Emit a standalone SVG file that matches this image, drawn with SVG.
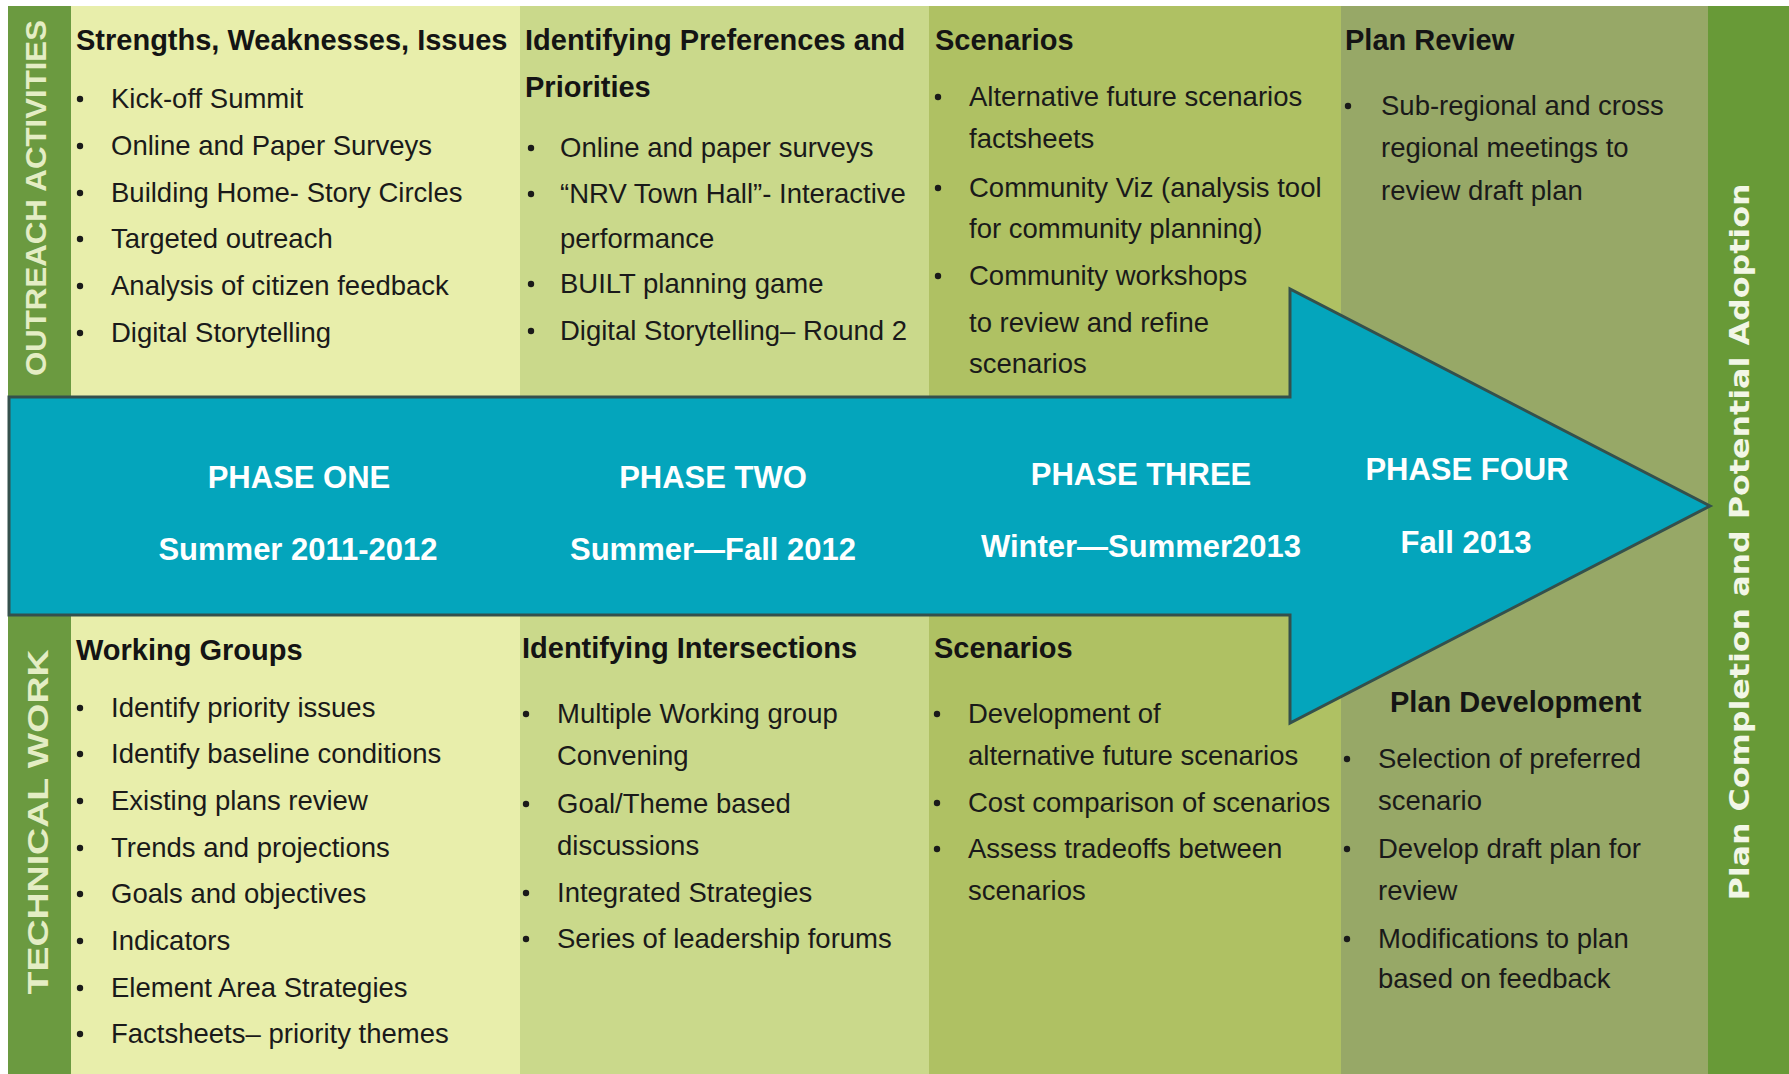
<svg xmlns="http://www.w3.org/2000/svg" width="1789" height="1074" viewBox="0 0 1789 1074">
<style>
.hd{font-family:"Liberation Sans",Arial,sans-serif;font-weight:bold;font-size:29px;fill:#141414}
.tx{font-family:"Liberation Sans",Arial,sans-serif;font-size:27.5px;fill:#1a1a1a}
.ph{font-family:"Liberation Sans",Arial,sans-serif;font-weight:bold;font-size:31px;fill:#ffffff;text-anchor:middle}
.side{font-family:"Liberation Sans",Arial,sans-serif;font-weight:bold;font-size:30px;fill:#e4edc4;text-anchor:middle}
.end{font-family:"DejaVu Sans",Verdana,sans-serif;font-weight:bold;font-size:27px;fill:#f2f6e6;text-anchor:middle}
.b{fill:#1a1a1a}
</style>
<rect x="0" y="0" width="1789" height="1074" fill="#ffffff"/>
<g id="columns">
<rect x="71" y="6" width="449" height="1068" fill="#e8eeab"/>
<rect x="520" y="6" width="409" height="1068" fill="#cad98b"/>
<rect x="929" y="6" width="412" height="1068" fill="#afc163"/>
<rect x="1341" y="6" width="367" height="1068" fill="#97a867"/>
</g>
<g id="outreach-bar">
<rect x="8" y="6" width="63" height="391" fill="#6b9a40"/>
<text class="side" transform="translate(46,198) rotate(-90)" textLength="356" lengthAdjust="spacingAndGlyphs">OUTREACH ACTIVITIES</text>
</g>
<g id="technical-bar">
<rect x="8" y="615" width="63" height="459" fill="#6b9a40"/>
<text class="side" transform="translate(48,822) rotate(-90)" textLength="345" lengthAdjust="spacingAndGlyphs">TECHNICAL WORK</text>
</g>
<g id="completion-bar">
<rect x="1708" y="6" width="81" height="1068" fill="#689a37"/>
<text class="end" transform="translate(1749,542) rotate(-90)" textLength="717" lengthAdjust="spacingAndGlyphs">Plan Completion and Potential Adoption</text>
</g>
<g id="arrow">
<polygon points="9,397 1290,397 1290,289 1710,506 1290,723 1290,615 9,615" fill="#04a5bc" stroke="#34504c" stroke-width="3" stroke-linejoin="miter"/>
</g>
<g id="phase-one">
<text class="ph" x="299" y="488">PHASE ONE</text>
<text class="ph" x="298" y="560">Summer 2011-2012</text>
</g>
<g id="phase-two">
<text class="ph" x="713" y="488">PHASE TWO</text>
<text class="ph" x="713" y="560">Summer—Fall 2012</text>
</g>
<g id="phase-three">
<text class="ph" x="1141" y="485">PHASE THREE</text>
<text class="ph" x="1141" y="557">Winter—Summer2013</text>
</g>
<g id="phase-four">
<text class="ph" x="1467" y="480">PHASE FOUR</text>
<text class="ph" x="1466" y="553">Fall 2013</text>
</g>
<g id="p1-outreach">
<text class="hd" x="76" y="50">Strengths, Weaknesses, Issues</text>
<circle class="b" cx="80" cy="99" r="3.2"/><text class="tx" x="111" y="108">Kick-off Summit</text>
<circle class="b" cx="80" cy="146" r="3.2"/><text class="tx" x="111" y="155">Online and Paper Surveys</text>
<circle class="b" cx="80" cy="193" r="3.2"/><text class="tx" x="111" y="202">Building Home- Story Circles</text>
<circle class="b" cx="80" cy="239" r="3.2"/><text class="tx" x="111" y="248">Targeted outreach</text>
<circle class="b" cx="80" cy="286" r="3.2"/><text class="tx" x="111" y="295">Analysis of citizen feedback</text>
<circle class="b" cx="80" cy="333" r="3.2"/><text class="tx" x="111" y="342">Digital Storytelling</text>
</g>
<g id="p2-outreach">
<text class="hd" x="525" y="50">Identifying Preferences and</text>
<text class="hd" x="525" y="97">Priorities</text>
<circle class="b" cx="531" cy="148" r="3.2"/><text class="tx" x="560" y="157">Online and paper surveys</text>
<circle class="b" cx="531" cy="194" r="3.2"/><text class="tx" x="560" y="203">“NRV Town Hall”- Interactive</text>
<text class="tx" x="560" y="248">performance</text>
<circle class="b" cx="531" cy="284" r="3.2"/><text class="tx" x="560" y="293">BUILT planning game</text>
<circle class="b" cx="531" cy="331" r="3.2"/><text class="tx" x="560" y="340">Digital Storytelling– Round 2</text>
</g>
<g id="p3-outreach">
<text class="hd" x="935" y="50">Scenarios</text>
<circle class="b" cx="938" cy="97" r="3.2"/><text class="tx" x="969" y="106">Alternative future scenarios</text>
<text class="tx" x="969" y="148">factsheets</text>
<circle class="b" cx="938" cy="188" r="3.2"/><text class="tx" x="969" y="197">Community Viz (analysis tool</text>
<text class="tx" x="969" y="238">for community planning)</text>
<circle class="b" cx="938" cy="276" r="3.2"/><text class="tx" x="969" y="285">Community workshops</text>
<text class="tx" x="969" y="332">to review and refine</text>
<text class="tx" x="969" y="373">scenarios</text>
</g>
<g id="p4-outreach">
<text class="hd" x="1345" y="50">Plan Review</text>
<circle class="b" cx="1348" cy="106" r="3.2"/><text class="tx" x="1381" y="115">Sub-regional and cross</text>
<text class="tx" x="1381" y="157">regional meetings to</text>
<text class="tx" x="1381" y="200">review draft plan</text>
</g>
<g id="p1-technical">
<text class="hd" x="76" y="660">Working Groups</text>
<circle class="b" cx="80" cy="708" r="3.2"/><text class="tx" x="111" y="717">Identify priority issues</text>
<circle class="b" cx="80" cy="754" r="3.2"/><text class="tx" x="111" y="763">Identify baseline conditions</text>
<circle class="b" cx="80" cy="801" r="3.2"/><text class="tx" x="111" y="810">Existing plans review</text>
<circle class="b" cx="80" cy="848" r="3.2"/><text class="tx" x="111" y="857">Trends and projections</text>
<circle class="b" cx="80" cy="894" r="3.2"/><text class="tx" x="111" y="903">Goals and objectives</text>
<circle class="b" cx="80" cy="941" r="3.2"/><text class="tx" x="111" y="950">Indicators</text>
<circle class="b" cx="80" cy="988" r="3.2"/><text class="tx" x="111" y="997">Element Area Strategies</text>
<circle class="b" cx="80" cy="1034" r="3.2"/><text class="tx" x="111" y="1043">Factsheets– priority themes</text>
</g>
<g id="p2-technical">
<text class="hd" x="522" y="658">Identifying Intersections</text>
<circle class="b" cx="526" cy="714" r="3.2"/><text class="tx" x="557" y="723">Multiple Working group</text>
<text class="tx" x="557" y="765">Convening</text>
<circle class="b" cx="526" cy="804" r="3.2"/><text class="tx" x="557" y="813">Goal/Theme based</text>
<text class="tx" x="557" y="855">discussions</text>
<circle class="b" cx="526" cy="893" r="3.2"/><text class="tx" x="557" y="902">Integrated Strategies</text>
<circle class="b" cx="526" cy="939" r="3.2"/><text class="tx" x="557" y="948">Series of leadership forums</text>
</g>
<g id="p3-technical">
<text class="hd" x="934" y="658">Scenarios</text>
<circle class="b" cx="937" cy="714" r="3.2"/><text class="tx" x="968" y="723">Development of</text>
<text class="tx" x="968" y="765">alternative future scenarios</text>
<circle class="b" cx="937" cy="803" r="3.2"/><text class="tx" x="968" y="812">Cost comparison of scenarios</text>
<circle class="b" cx="937" cy="849" r="3.2"/><text class="tx" x="968" y="858">Assess tradeoffs between</text>
<text class="tx" x="968" y="900">scenarios</text>
</g>
<g id="p4-technical">
<text class="hd" x="1390" y="712">Plan Development</text>
<circle class="b" cx="1347" cy="759" r="3.2"/><text class="tx" x="1378" y="768">Selection of preferred</text>
<text class="tx" x="1378" y="810">scenario</text>
<circle class="b" cx="1347" cy="849" r="3.2"/><text class="tx" x="1378" y="858">Develop draft plan for</text>
<text class="tx" x="1378" y="900">review</text>
<circle class="b" cx="1347" cy="939" r="3.2"/><text class="tx" x="1378" y="948">Modifications to plan</text>
<text class="tx" x="1378" y="988">based on feedback</text>
</g>
<g id="connectors"></g>
</svg>
